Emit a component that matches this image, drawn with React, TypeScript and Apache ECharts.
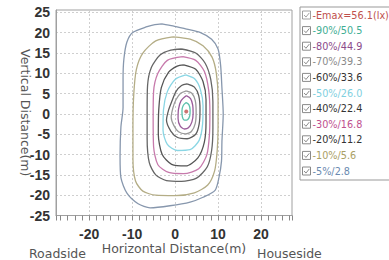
import React, { useEffect, useRef } from 'react';
import * as echarts from 'echarts';

const seriesNames = [
  '-Emax=56.1(lx)', '-90%/50.5', '-80%/44.9', '-70%/39.3', '-60%/33.6', '-50%/26.0',
  '-40%/22.4', '-30%/16.8', '-20%/11.2', '-10%/5.6', '-5%/2.8',
];
const textColors = [
  '#c0504d', '#3fae94', '#8b4a8b', '#8a8a8a', '#333333', '#7fd0e0',
  '#333333', '#c0508f', '#333333', '#aaa064', '#6a8ab0',
];
const lineColors = [
  '#c0504d', '#5cc0ac', '#9a5c9a', '#9a9a9a', '#5e5e5e', '#8ad6e4',
  '#555555', '#c77aac', '#666666', '#b4ad86', '#8797ad',
];

const emax = [[2.6, 0.6]];

const c90 = [[2.6, 2.8], [3.2, 2.3], [3.5, 1.0], [3.4, -0.5], [2.9, -1.4], [2.2, -1.5], [1.7, -0.7], [1.6, 0.8], [1.9, 2.1], [2.6, 2.8]];
const c80 = [[2.6, 4.5], [3.6, 3.8], [4.1, 2.2], [4.2, 0.2], [3.9, -2.0], [3.1, -3.4], [2.2, -3.7], [1.2, -3.0], [0.7, -1.2], [0.8, 1.2], [1.4, 3.3], [2.6, 4.5]];
const c70 = [[2.6, 5.7], [3.9, 5.1], [4.7, 3.3], [4.9, 0.5], [4.7, -2.3], [3.8, -4.3], [2.4, -4.9], [0.8, -4.4], [-0.3, -2.8], [-0.9, -0.8], [-0.5, 1.5], [0.2, 3.5], [1.3, 5.1], [2.6, 5.7]];
const c60 = [[2.8, 7.4], [4.5, 6.6], [5.5, 4.5], [5.8, 1.0], [5.6, -2.5], [4.8, -5.0], [2.8, -6.1], [0.6, -5.8], [-1.0, -4.2], [-2.0, -1.5], [-1.5, 1.0], [-0.8, 3.0], [0.2, 5.5], [1.5, 7.0], [2.8, 7.4]];
const c50 = [[2.5, 9.6], [4.6, 8.6], [5.9, 6.0], [6.5, 2.0], [6.4, -2.5], [5.6, -6.5], [3.5, -8.8], [0.5, -9.0], [-1.8, -7.5], [-2.8, -4.0], [-2.7, 1.0], [-1.8, 5.5], [0.0, 8.5], [2.5, 9.6]];
const c40 = [[2.0, 12.1], [4.8, 11.0], [6.5, 8.0], [7.2, 3.5], [7.2, -2.0], [6.8, -7.0], [5.3, -10.8], [2.5, -12.8], [-0.8, -12.4], [-3.0, -10.0], [-3.9, -5.0], [-3.8, 1.0], [-3.2, 6.5], [-1.5, 10.3], [0.5, 11.8], [2.0, 12.1]];
const c30 = [[1.8, 14.1], [4.8, 13.2], [6.8, 10.5], [7.8, 6.0], [8.1, 0.5], [8.0, -5.0], [7.4, -10.0], [5.5, -13.5], [2.0, -14.7], [-1.5, -14.4], [-4.0, -12.5], [-5.0, -8.0], [-5.1, -1.0], [-5.0, 5.5], [-4.0, 10.0], [-1.8, 13.2], [1.8, 14.1]];
const c20 = [[1.5, 16.0], [4.8, 15.0], [7.0, 12.5], [8.3, 8.5], [8.8, 3.0], [8.8, -3.5], [8.5, -9.0], [7.5, -13.0], [5.0, -15.8], [1.5, -16.6], [-2.0, -16.4], [-4.5, -15.0], [-6.0, -12.0], [-6.5, -6.0], [-6.5, 0.5], [-6.4, 7.0], [-5.5, 11.5], [-3.5, 14.5], [-1.0, 15.7], [1.5, 16.0]];
const c10 = [[-0.5, 19.0], [3.5, 18.4], [6.5, 16.8], [8.6, 14.0], [9.6, 10.0], [10.0, 4.0], [10.0, -3.0], [9.8, -9.0], [9.2, -14.0], [7.6, -17.5], [4.5, -19.4], [0.0, -20.1], [-4.5, -20.0], [-7.5, -19.0], [-9.2, -16.5], [-9.8, -11.0], [-9.8, -3.0], [-9.6, 5.0], [-9.0, 11.0], [-7.5, 15.0], [-4.5, 18.0], [-0.5, 19.0]];
const c5 = [[-3.1, 22.2], [-0.5, 21.7], [2.7, 20.9], [5.8, 20.1], [8.5, 18.4], [10.0, 16.0], [10.6, 11.9], [10.9, 6.4], [11.2, 0.0], [10.9, -6.8], [10.8, -11.6], [10.2, -15.7], [9.3, -18.8], [6.5, -20.5], [3.5, -21.7], [-1.2, -22.6], [-5.8, -23.1], [-8.6, -22.1], [-11.2, -19.5], [-12.6, -15.7], [-12.8, -10.4], [-12.6, -3.2], [-12.1, 1.6], [-12.1, 8.8], [-11.9, 13.6], [-11.2, 17.7], [-9.8, 20.1], [-6.5, 21.5], [-4.7, 22.0], [-3.1, 22.2]];

const contours = [c90, c80, c70, c60, c50, c40, c30, c20, c10, c5];

const xLabelValues = [-20, -10, 0, 10, 20];
const yLabelValues = [-25, -20, -15, -10, -5, 0, 5, 10, 15, 20, 25];

export default function App() {
  const ref = useRef<HTMLDivElement>(null);
  useEffect(() => {
    if (!ref.current) return;
    const chart = echarts.init(ref.current, undefined, { renderer: 'svg' });
    const font = 'Liberation Sans, Arial, sans-serif';
    const wide = 'DejaVu Sans, sans-serif';
    const series: any[] = [
      {
        name: seriesNames[0],
        type: 'scatter',
        data: emax,
        symbolSize: 4,
        itemStyle: { color: lineColors[0] },
        z: 5,
      },
      ...contours.map((d, i) => ({
        name: seriesNames[i + 1],
        type: 'line',
        data: d,
        showSymbol: false,
        smooth: 0.25,
        lineStyle: { color: lineColors[i + 1], width: 1.3 },
        itemStyle: { color: lineColors[i + 1] },
      })),
    ];
    chart.setOption({
      animation: false,
      grid: { left: 56, right: 97, top: 10, bottom: 40, show: true, borderColor: '#a0a0a0', borderWidth: 1 },
      xAxis: {
        type: 'value',
        min: -27.7,
        max: 27.2,
        name: 'Horizontal Distance(m)',
        nameLocation: 'middle',
        nameGap: 26.5,
        nameMoveOverlap: false,
        nameTextStyle: { color: '#555', fontSize: 12.5, lineHeight: 13, fontFamily: wide, verticalAlign: 'top' },
        axisLine: { onZero: false, lineStyle: { color: '#a0a0a0' } },
        axisTick: { show: true, length: 5, lineStyle: { color: '#888' } },
        minorTick: { show: true, splitNumber: 6, length: 5, lineStyle: { color: '#888' } },
        axisLabel: {
          margin: 11.5,
          color: '#333',
          fontSize: 14,
          lineHeight: 14,
          fontWeight: 'bold',
          fontFamily: font,
          formatter: (v: number) => (xLabelValues.includes(Math.round(v * 1000) / 1000) ? String(v) : ''),
        },
        splitLine: { show: true, lineStyle: { color: '#cfcfcf', type: [2, 2] } },
      },
      yAxis: {
        type: 'value',
        min: -25,
        max: 25.6,
        interval: 5,
        name: 'Vertical Distance(m)',
        nameLocation: 'middle',
        nameRotate: -90,
        nameGap: 24,
        nameMoveOverlap: false,
        nameTextStyle: { color: '#555', fontSize: 12.5, fontFamily: wide },
        axisLine: { show: true, onZero: false, lineStyle: { color: '#a0a0a0' } },
        axisTick: { show: false },
        axisLabel: {
          margin: 6,
          color: '#333',
          fontSize: 14,
          fontWeight: 'bold',
          fontFamily: font,
          formatter: (v: number) => (yLabelValues.includes(Math.round(v * 1000) / 1000) ? String(v) : ''),
        },
        splitLine: { show: true, lineStyle: { color: '#cfcfcf', type: [2, 2] } },
      },
      legend: {
        orient: 'vertical',
        left: 300,
        top: 7,
        padding: [2, 6, 3, 2],
        borderColor: '#999',
        borderWidth: 1,
        backgroundColor: '#fff',
        itemWidth: 8,
        itemHeight: 8,
        itemGap: 3.6,
        icon: 'path://M0,0L10,0L10,10L0,10Z M2,5L4.3,7.6L8.5,2.4',
        itemStyle: { color: '#fff', borderColor: '#8a8a8a', borderWidth: 1 },
        textStyle: { fontSize: 9.7, lineHeight: 12, fontFamily: wide, padding: [0, 0, 0, -3] },
        data: seriesNames.map((n, i) => ({
          name: n,
          textStyle: { color: textColors[i], fontSize: 9.7, lineHeight: 12, fontFamily: wide },
        })),
        selectedMode: false,
      },
      graphic: [
        { type: 'text', left: 29, top: 246.5, style: { text: 'Roadside', fill: '#555', font: `12.5px ${wide}` } },
        { type: 'text', left: 257, top: 246.5, style: { text: 'Houseside', fill: '#555', font: `12.5px ${wide}` } },
      ],
      series,
    });
    return () => chart.dispose();
  }, []);
  return <div ref={ref} style={{ position: 'fixed', left: 0, top: 0, width: 389, height: 260, background: '#fff' }} />;
}
